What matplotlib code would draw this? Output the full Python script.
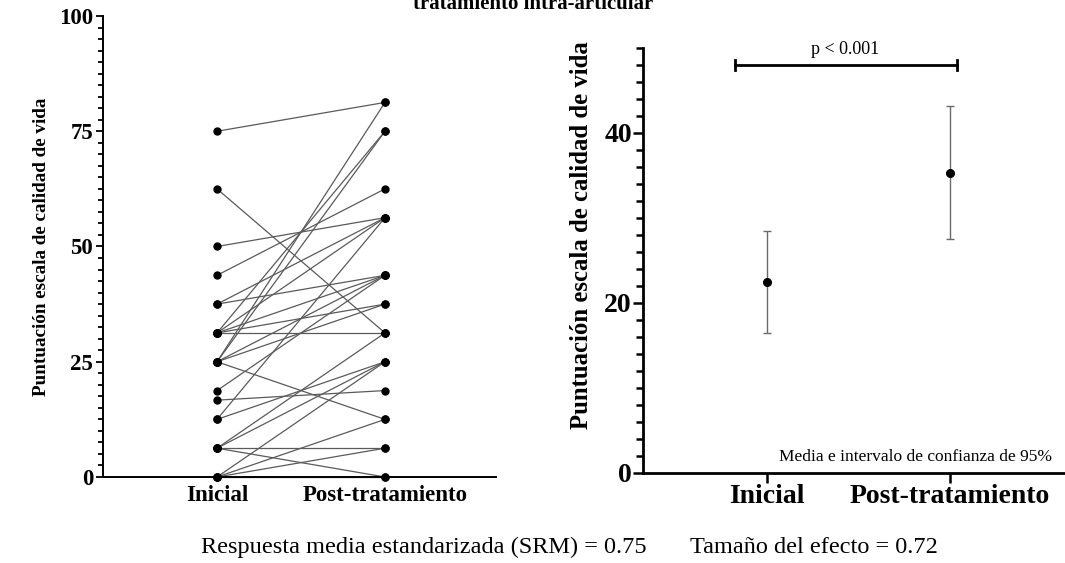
import matplotlib
matplotlib.use("Agg")
import matplotlib.pyplot as plt
import numpy as np
from matplotlib.ticker import MultipleLocator

plt.rcParams["font.family"] = ["Liberation Serif", "DejaVu Serif"]

# paired scores, one entry per patient (left panel)
inicial = [75, 62.5, 50, 43.75, 37.5, 37.5, 31.25, 31.25, 31.25, 31.25, 31.25,
           25, 25, 25, 25, 25, 18.75, 16.67, 12.5, 12.5, 6.25, 6.25, 6.25, 6.25,
           0, 0, 0, 0]
post = [81.25, 31.25, 56.25, 62.5, 56.25, 43.75, 75, 56.25, 43.75, 37.5, 31.25,
        81.25, 75, 43.75, 37.5, 12.5, 43.75, 18.75, 56.25, 25, 6.25, 0, 25, 31.25,
        6.25, 12.5, 25, 0]

# mean and 95% CI (right panel)
groups = ["Inicial", "Post-tratamiento"]
means = [22.5, 35.3]
ci_low = [16.5, 27.5]
ci_high = [28.5, 43.2]

srm_text = "Respuesta media estandarizada (SRM) = 0.75"
es_text = "Tamaño del efecto = 0.72"
ylabel = "Puntuación escala de calidad de vida"

W, H = 1065, 563
fig = plt.figure(figsize=(W / 100, H / 100), dpi=100)


def px_axes(x0, y0, x1, y1):
    return fig.add_axes([x0 / W, 1 - y1 / H, (x1 - x0) / W, (y1 - y0) / H])


# ---- left: individual trajectories
ax1 = px_axes(103, 16, 496, 477)
for a, b in zip(inicial, post):
    ax1.plot([0, 1], [a, b], color="#5a5a5a", lw=0.9, zorder=2, clip_on=False)
ax1.plot(np.zeros(len(inicial)), inicial, "o", color="black", ms=5, zorder=3, clip_on=False)
ax1.plot(np.ones(len(post)), post, "o", color="black", ms=5, zorder=3, clip_on=False)
ax1.set_xlim(-0.679, 1.661)
ax1.set_ylim(0, 100)
ax1.set_xticks([0, 1])
ax1.set_xticklabels(groups, fontsize=16.5, fontweight="bold")
ax1.set_yticks([0, 25, 50, 75, 100])
ax1.set_yticklabels(["0", "25", "50", "75", "100"], fontsize=16.5, fontweight="bold")
ax1.yaxis.set_minor_locator(MultipleLocator(2.5))
ax1.tick_params(axis="y", which="major", length=5, width=1.3, pad=2)
ax1.tick_params(axis="y", which="minor", length=3.5, width=1.3)
ax1.tick_params(axis="x", length=0, pad=6)
ax1.set_ylabel(ylabel, fontsize=13.8, fontweight="bold")
ax1.yaxis.set_label_coords(-53 / 393, 0.5)
for s in ["top", "right"]:
    ax1.spines[s].set_visible(False)
for s in ["left", "bottom"]:
    ax1.spines[s].set_linewidth(1.4)

# ---- right: mean and 95% CI
ax2 = px_axes(643, 48, 1100, 473)
x = np.arange(len(groups))
m = np.array(means)
err = np.array([m - np.array(ci_low), np.array(ci_high) - m])
ax2.errorbar(x, m, yerr=err, fmt="none", ecolor="#6a6a6a", elinewidth=1.0,
             capsize=3, capthick=1.0, zorder=2)
ax2.plot(x, m, "o", color="black", ms=5.5, zorder=3)
ax2.set_xlim(-0.676, 1.82)
ax2.set_ylim(0, 50)
ax2.set_xticks(x)
ax2.set_xticklabels(groups, fontsize=20, fontweight="bold")
ax2.set_yticks([0, 20, 40])
ax2.set_yticklabels(["0", "20", "40"], fontsize=20, fontweight="bold")
ax2.yaxis.set_minor_locator(MultipleLocator(2))
ax2.tick_params(axis="y", which="major", length=7, width=1.8, pad=1)
ax2.tick_params(axis="y", which="minor", length=5, width=1.8)
ax2.tick_params(axis="x", length=7, width=1.8, pad=1)
ax2.set_ylabel(ylabel, fontsize=17.8, fontweight="bold")
ax2.yaxis.set_label_coords(-50 / 457, (473 - 235) / 425)
for s in ["top", "right"]:
    ax2.spines[s].set_visible(False)
for s in ["left", "bottom"]:
    ax2.spines[s].set_linewidth(2.0)

# significance bracket
by = 48
ax2.plot([-0.173, 1.04], [by, by], color="black", lw=2, clip_on=False)
for bx in (-0.173, 1.04):
    ax2.plot([bx, bx], [by - 0.55, by + 0.55], color="black", lw=2, clip_on=False)
ax2.text(0.43, by + 0.8, "p < 0.001", ha="center", va="bottom", fontsize=13)
ax2.text(0.067, 1.9, "Media e intervalo de confianza de 95%", ha="left",
         va="center", fontsize=12.5)

# title (first line runs off the top of the canvas)
fig.text(533 / W, 1 - 9 / H, "tratamiento intra-articular", ha="center",
         va="baseline", fontsize=15, fontweight="bold")

# effect-size summary under both panels
fig.text(201 / W, 1 - 553 / H, srm_text, ha="left", va="baseline", fontsize=17.5)
fig.text(690 / W, 1 - 553 / H, es_text, ha="left", va="baseline", fontsize=17.5)

fig.savefig("out.png", dpi=100)
